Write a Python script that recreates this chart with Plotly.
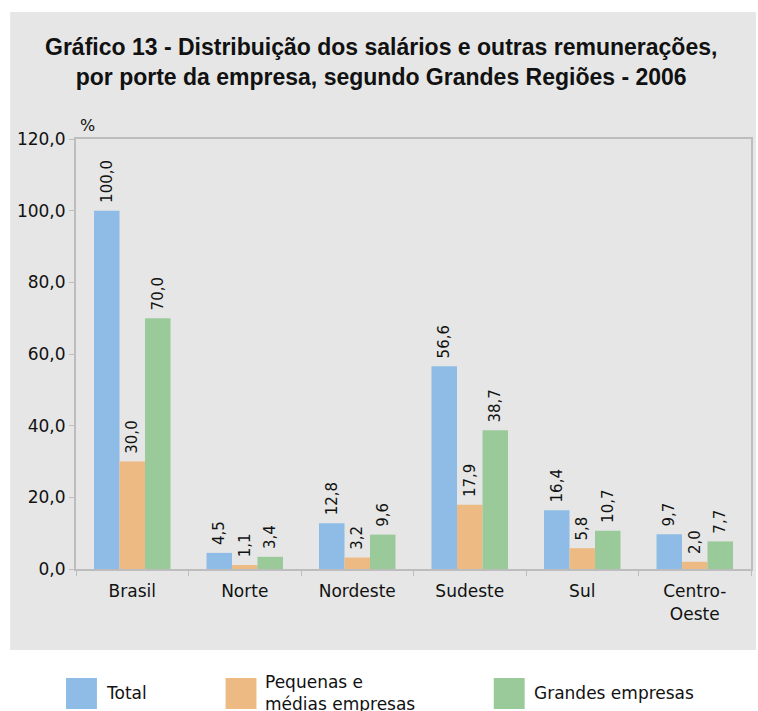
import plotly.graph_objects as go

categories = ["Brasil", "Norte", "Nordeste", "Sudeste", "Sul", "Centro-<br>Oeste"]
total = [100.0, 4.5, 12.8, 56.6, 16.4, 9.7]
pequenas = [30.0, 1.1, 3.2, 17.9, 5.8, 2.0]
grandes = [70.0, 3.4, 9.6, 38.7, 10.7, 7.7]
series_names = ["Total", "Pequenas e<br>médias empresas", "Grandes empresas"]
colors = ["#8fbce6", "#edba84", "#9aca9a"]
y_ticks = [0, 20, 40, 60, 80, 100, 120]

W, H = 758, 711
L, R, T, B = 76, 5, 139, 142
PW, PH = W - L - R, H - T - B

def px(x):
    return (x - L) / PW

def py(y):
    return (H - B - y) / PH

font_main = "DejaVu Sans, Verdana, sans-serif"

fig = go.Figure()
for vals, name, col in zip([total, pequenas, grandes], series_names, colors):
    fig.add_trace(go.Bar(
        x=categories, y=vals, name=name, marker_color=col, marker_line_width=0,
        texttemplate="\u00a0%{y:.1f}", textposition="outside", textangle=-90,
        constraintext="none",
        textfont=dict(size=15, color="#111", family=font_main),
        cliponaxis=False, showlegend=False,
    ))

shapes = [dict(type="rect", xref="paper", yref="paper", x0=px(10), x1=px(758),
               y0=py(650), y1=py(12), fillcolor="#e5e6e5", line_width=0, layer="below")]
annotations = [
    dict(text="<b>Gráfico 13 - Distribuição dos salários e outras remunerações,<br>por porte da empresa, segundo Grandes Regiões - 2006</b>",
         xref="paper", yref="paper", x=px(382), y=py(62), xanchor="center", yanchor="middle",
         showarrow=False, font=dict(size=23, color="#111", family="Liberation Sans, Arial, sans-serif"),
         align="center"),
    dict(text="%", xref="paper", yref="paper", x=px(88), y=py(125), xanchor="center", yanchor="middle",
         showarrow=False, font=dict(size=16, color="#111", family=font_main)),
]
leg_x = [66, 226, 495]
for sx, name, col in zip(leg_x, series_names, colors):
    shapes.append(dict(type="rect", xref="paper", yref="paper", x0=px(sx), x1=px(sx + 31),
                       y0=py(709), y1=py(678), fillcolor=col, line_width=0))
    annotations.append(dict(text=name, xref="paper", yref="paper", x=px(sx + 38), y=py(693),
                            xanchor="left", yanchor="middle", showarrow=False, align="left",
                            font=dict(size=17, color="#111", family=font_main)))

fig.update_layout(
    width=W, height=H, margin=dict(l=L, r=R, t=T, b=B),
    paper_bgcolor="white", plot_bgcolor="white",
    barmode="group", bargap=0.32, bargroupgap=0,
    separators=",.",
    shapes=shapes, annotations=annotations,
    showlegend=False,
    xaxis=dict(showline=True, linecolor="#bdbdbd", linewidth=2, mirror=True,
               ticks="outside", tickson="boundaries", ticklen=5, tickcolor="#bdbdbd",
               ticklabelstandoff=6,
               tickfont=dict(size=17, color="#111", family=font_main), showgrid=False),
    yaxis=dict(range=[0, 120], tickvals=y_ticks, tickformat=".1f",
               showline=True, linecolor="#bdbdbd", linewidth=2, mirror=True,
               ticks="outside", ticklen=5, tickcolor="#bdbdbd", showgrid=False, zeroline=False,
               tickfont=dict(size=17, color="#111", family=font_main)),
)
fig.write_html("out.html", config={"displayModeBar": False},
               post_script="document.body.style.margin='0';")
